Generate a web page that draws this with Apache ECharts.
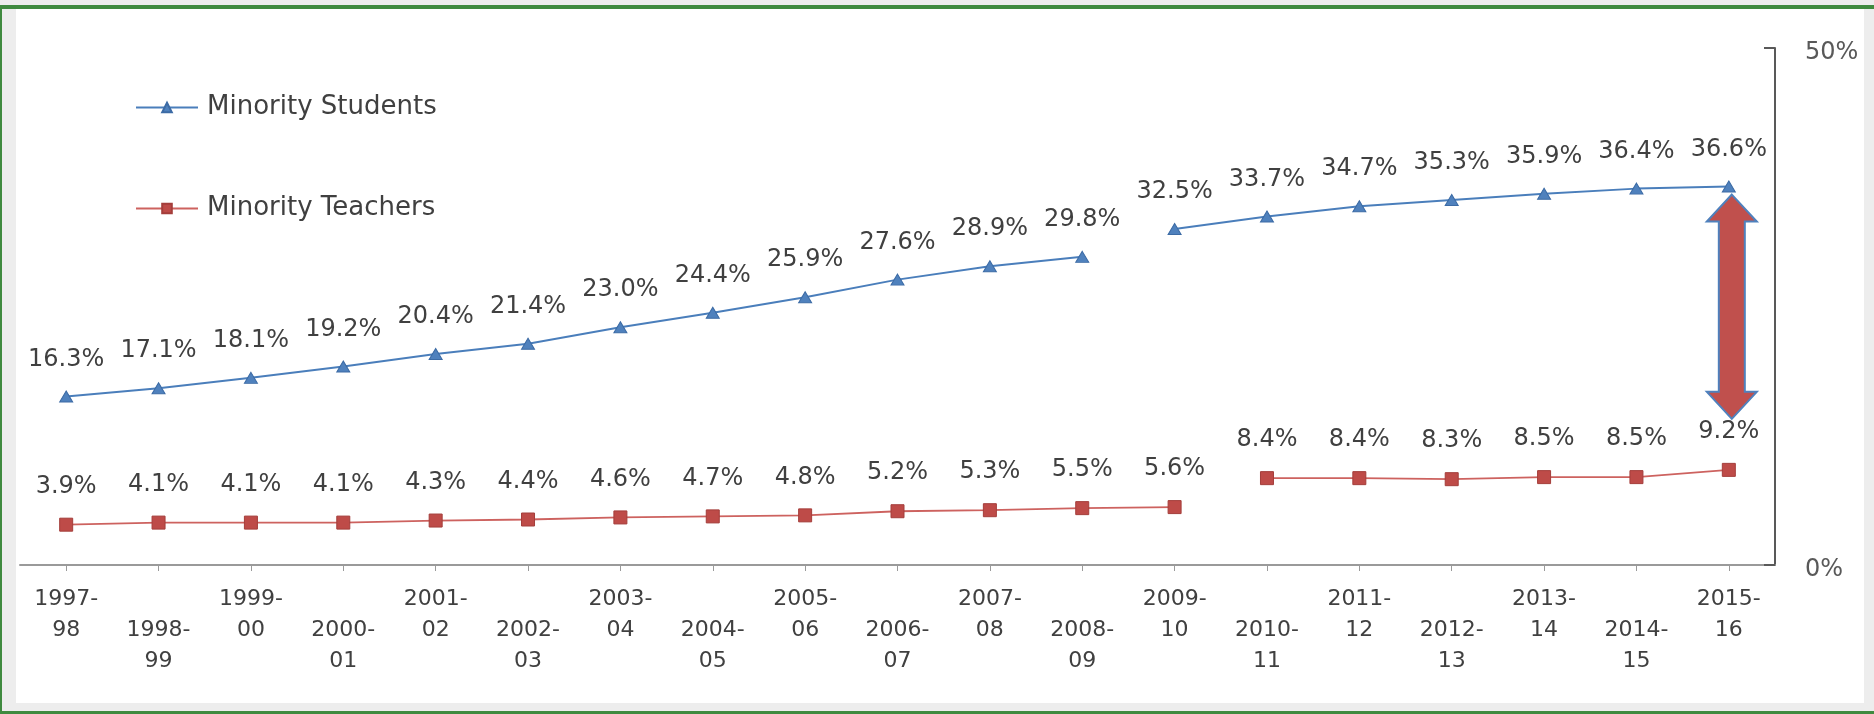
<!DOCTYPE html>
<html>
<head>
<meta charset="utf-8">
<script src="https://cdn.jsdelivr.net/npm/echarts@6/dist/echarts.min.js"></script>
<style>
  html, body { margin: 0; padding: 0; width: 1874px; height: 714px; overflow: hidden; background: #ededed; }
  #frameTop { position: absolute; left: 0; top: 5px; width: 1874px; height: 4px; background: #3f8a3f; }
  #frameLeft { position: absolute; left: 0; top: 5px; width: 2px; height: 709px; background: #3f8a3f; }
  #frameBottom { position: absolute; left: 0; top: 711px; width: 1874px; height: 3px; background: #3f8a3f; }
  #panel { position: absolute; left: 16px; top: 9px; width: 1848px; height: 694px; background: #ffffff; }
  #chart { position: absolute; left: 0; top: 0; width: 1874px; height: 714px; }
</style>
</head>
<body>
<div id="frameTop"></div>
<div id="frameLeft"></div>
<div id="frameBottom"></div>
<div id="panel"></div>
<div id="chart"></div>
<script>
// ---- data ----
const categories = ['1997-98','1998-99','1999-00','2000-01','2001-02','2002-03','2003-04','2004-05','2005-06','2006-07','2007-08','2008-09','2009-10','2010-11','2011-12','2012-13','2013-14','2014-15','2015-16'];
const studentValues = [16.3, 17.1, 18.1, 19.2, 20.4, 21.4, 23.0, 24.4, 25.9, 27.6, 28.9, 29.8, 32.5, 33.7, 34.7, 35.3, 35.9, 36.4, 36.6];
const teacherValues = [3.9, 4.1, 4.1, 4.1, 4.3, 4.4, 4.6, 4.7, 4.8, 5.2, 5.3, 5.5, 5.6, 8.4, 8.4, 8.3, 8.5, 8.5, 9.2];
const studentBreakAfter = '2008-09';
const teacherBreakAfter = '2009-10';
const studentName = 'Minority Students';
const teacherName = 'Minority Teachers';
const yTicks = [0, 50];

// ---- helpers ----
function split(values, breakCat) {
  const k = categories.indexOf(breakCat);
  return [
    values.map((v, i) => (i <= k ? v : '-')),
    values.map((v, i) => (i > k ? v : '-'))
  ];
}
const [s1, s2] = split(studentValues, studentBreakAfter);
const [t1, t2] = split(teacherValues, teacherBreakAfter);

const FONT = 'DejaVu Sans';
const labelCfg = {
  show: true, position: 'top', distance: 19,
  fontFamily: FONT, fontSize: 24, color: '#404040',
  formatter: p => Number(p.value).toFixed(1) + '%'
};
function studentSeries(data) {
  return {
    name: studentName, type: 'line', data: data,
    symbol: 'triangle', symbolSize: [13, 11],
    itemStyle: { color: '#4F81BD', borderColor: '#3C6BA5', borderWidth: 1 },
    lineStyle: { color: '#4A7EBB', width: 2 },
    label: labelCfg, animation: false, z: 3
  };
}
function teacherSeries(data) {
  return {
    name: teacherName, type: 'line', data: data,
    symbol: 'rect', symbolSize: 13,
    itemStyle: { color: '#BE4B48', borderColor: '#A43E3B', borderWidth: 1 },
    lineStyle: { color: '#CD625F', width: 1.8 },
    label: labelCfg, animation: false, z: 3
  };
}

const chart = echarts.init(document.getElementById('chart'), null, { renderer: 'canvas' });
chart.setOption({
  animation: false,
  backgroundColor: 'transparent',
  grid: { left: 20, right: 99, top: 48, bottom: 149, containLabel: false },
  legend: {
    orient: 'vertical', left: 130, top: 89,
    itemWidth: 62, itemHeight: 12, itemGap: 74,
    data: [studentName, teacherName],
    textStyle: { fontFamily: FONT, fontSize: 26, color: '#404040', lineHeight: 27, padding: [0, 0, 0, 4] }
  },
  xAxis: {
    type: 'category', data: categories, boundaryGap: true,
    axisLine: { show: true, lineStyle: { color: '#9a9a9a', width: 2 } },
    axisTick: { show: true, alignWithLabel: true, length: 6, lineStyle: { color: '#9a9a9a', width: 1 } },
    axisLabel: {
      interval: 0, margin: 19, fontFamily: FONT, fontSize: 22, color: '#404040', lineHeight: 31,
      formatter: (v, i) => { const parts = v.split('-'); return (i % 2 ? '\n' : '') + parts[0] + '-\n' + parts[1]; }
    },
    splitLine: { show: false }
  },
  yAxis: {
    type: 'value', position: 'right', min: yTicks[0], max: yTicks[yTicks.length - 1], interval: yTicks[1] - yTicks[0],
    axisLine: { show: true, lineStyle: { color: '#595959', width: 2 } },
    axisTick: { show: true, inside: true, length: 11, lineStyle: { color: '#595959', width: 2 } },
    axisLabel: {
      margin: 30, fontFamily: FONT, fontSize: 24, color: '#595959',
      formatter: v => '{p|' + v + '%}',
      rich: { p: { fontFamily: FONT, fontSize: 24, color: '#595959', padding: [10, 0, 0, 0] } }
    },
    splitLine: { show: false }
  },
  series: [studentSeries(s1), studentSeries(s2), teacherSeries(t1), teacherSeries(t2)]
});

// ---- annotation arrow between last student and last teacher values ----
const lastCat = categories[categories.length - 1];
const pTop = chart.convertToPixel({ xAxisIndex: 0, yAxisIndex: 0 }, [lastCat, studentValues[studentValues.length - 1]]);
const pBot = chart.convertToPixel({ xAxisIndex: 0, yAxisIndex: 0 }, [lastCat, teacherValues[teacherValues.length - 1]]);
const cx = pTop[0] + 3;
const yT = pTop[1] + 8;
const yB = pBot[1] - 51;
const shaft = 13, head = 25, headLen = 27;
chart.setOption({
  graphic: [{
    type: 'polygon', z: 10,
    shape: { points: [
      [cx, yT], [cx + head, yT + headLen], [cx + shaft, yT + headLen],
      [cx + shaft, yB - headLen], [cx + head, yB - headLen], [cx, yB],
      [cx - head, yB - headLen], [cx - shaft, yB - headLen], [cx - shaft, yT + headLen],
      [cx - head, yT + headLen]
    ] },
    style: { fill: '#C0504D', stroke: '#4F81BD', lineWidth: 2 }
  }]
});
</script>
</body>
</html>
